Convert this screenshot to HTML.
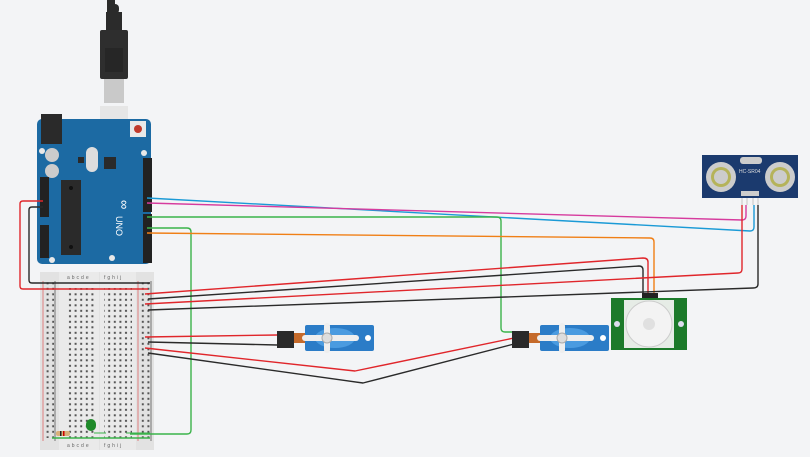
<!DOCTYPE html>
<html><head><meta charset="utf-8"><style>
html,body{margin:0;padding:0;background:#f3f4f6;width:810px;height:457px;overflow:hidden}
svg{display:block;font-family:"Liberation Sans",sans-serif}
</style></head><body>
<svg width="810" height="457" viewBox="0 0 810 457" xmlns="http://www.w3.org/2000/svg">
<defs>
<pattern id="h" x="0" y="0" width="5.6" height="5.5" patternUnits="userSpaceOnUse">
<rect x="1.8" y="1.8" width="2" height="2" fill="#555"/></pattern>
</defs>
<rect width="810" height="457" fill="#f3f4f6"/>

<!-- USB cable -->
<rect x="107" y="0" width="8" height="12" fill="#2b2b2b"/>
<rect x="109" y="4" width="10" height="10" rx="4" fill="#2b2b2b"/>
<rect x="106" y="12" width="16" height="18" fill="#2b2b2b"/>
<rect x="100" y="30" width="28" height="49" rx="2" fill="#2e2e2e"/>
<rect x="105" y="48" width="18" height="24" fill="#262626"/>
<rect x="104" y="79" width="20" height="24" fill="#c9c9c9"/>
<rect x="100" y="106" width="28" height="16" fill="#e6e6e6"/>

<!-- Arduino -->
<rect x="37" y="119" width="114" height="145" rx="5" fill="#1c6aa3"/>
<rect x="41" y="114" width="21" height="30" fill="#2a2a2a"/>
<rect x="130" y="121" width="16" height="16" fill="#e8e8e8"/><circle cx="138" cy="129" r="4" fill="#c0392b"/>
<circle cx="42" cy="151" r="3" fill="#e8e8e8"/><circle cx="144" cy="153" r="3" fill="#e8e8e8"/>
<circle cx="52" cy="155" r="7" fill="#ccc"/><circle cx="52" cy="171" r="7" fill="#ccc"/>
<rect x="86" y="147" width="12" height="25" rx="6" fill="#ddd"/>
<rect x="104" y="157" width="12" height="12" fill="#2a2a2a"/>
<rect x="78" y="157" width="6" height="6" fill="#2a2a2a"/>
<rect x="61" y="180" width="20" height="75" fill="#2a2a2a"/>
<circle cx="71" cy="188" r="2" fill="#111"/><circle cx="71" cy="247" r="2" fill="#111"/>
<rect x="40" y="177" width="9" height="40" fill="#222"/>
<rect x="40" y="225" width="9" height="33" fill="#222"/>
<rect x="143" y="158" width="9" height="54" fill="#222"/>
<rect x="143" y="214" width="9" height="49" fill="#222"/>
<text x="120" y="200" fill="#fff" font-size="13" transform="rotate(90 120 200)">∞</text>
<text x="116" y="216" fill="#fff" font-size="9" transform="rotate(90 116 216)">UNO</text>
<circle cx="52" cy="260" r="3" fill="#e8e8e8"/><circle cx="112" cy="258" r="3" fill="#e8e8e8"/>

<!-- Breadboard -->
<rect x="40" y="272" width="114" height="178" fill="#e2e2e2"/>
<rect x="59" y="272" width="40" height="178" fill="#eaeaea"/>
<rect x="100" y="272" width="36" height="178" fill="#eaeaea"/>
<line x1="43" y1="281" x2="43" y2="441" stroke="#d66" stroke-width="0.8"/>
<line x1="55" y1="281" x2="55" y2="441" stroke="#555" stroke-width="0.8"/>
<line x1="138" y1="281" x2="138" y2="441" stroke="#d66" stroke-width="0.8"/>
<line x1="151" y1="281" x2="151" y2="441" stroke="#555" stroke-width="0.8"/>
<rect x="44" y="282" width="10" height="156" fill="url(#h)"/>
<rect x="66" y="288" width="28" height="150" fill="url(#h)"/>
<rect x="104" y="288" width="28" height="150" fill="url(#h)"/>
<rect x="140" y="282" width="10" height="156" fill="url(#h)"/>
<text x="67" y="279" font-size="5" fill="#666" letter-spacing="2">abcde</text>
<text x="104" y="279" font-size="5" fill="#666" letter-spacing="2">fghij</text>
<text x="67" y="447" font-size="5" fill="#666" letter-spacing="2">abcde</text>
<text x="104" y="447" font-size="5" fill="#666" letter-spacing="2">fghij</text>
<!-- resistor & LED -->
<rect x="56" y="431" width="14" height="5" rx="2" fill="#d9b07a"/>
<rect x="60" y="431" width="1.5" height="5" fill="#222"/><rect x="63" y="431" width="1.5" height="5" fill="#c00"/>
<rect x="86" y="419" width="10" height="12" rx="5" fill="#1f8a2a"/>
<line x1="52" y1="438" x2="150" y2="438" stroke="#3bb34a" stroke-width="1.5"/>
<path d="M94 433 H106 M126 433 H150" stroke="#3bb34a" stroke-width="1"/>

<!-- wires -->
<g fill="none" stroke-width="1.4" stroke-linejoin="round">
<path d="M43 201 H23 Q20 201 20 204 V286 Q20 289 23 289 H148" stroke="#e0262b"/>
<path d="M43 207 H32 Q29 207 29 210 V280 Q29 283 32 283 H150" stroke="#2a2a2a"/>
<path d="M147 198 L750 231 Q754 231 754 227 V205" stroke="#1a9ad6"/>
<path d="M147 203 L742 220 Q746 220 746 216 V205" stroke="#d63b9e"/>
<path d="M147 217 L497 217 Q501 217 501 221 V328 Q501 332 505 332 H514" stroke="#3bb34a"/>
<path d="M147 228 L187 228 Q191 228 191 232 V430 Q191 434 187 434 H130" stroke="#3bb34a"/>
<path d="M147 233 L650 238 Q654 238 654 242 V293" stroke="#f07f16"/>
<path d="M145 294 L643 258 Q648 258 648 262 V293" stroke="#e0262b"/>
<path d="M148 299 L639 266 Q643 266 643 270 V293" stroke="#2a2a2a"/>
<path d="M145 304 L738 273 Q742 273 742 269 V205" stroke="#e0262b"/>
<path d="M148 310 L753 288 Q758 288 758 284 V205" stroke="#2a2a2a"/>
<path d="M145 337 L277 335" stroke="#e0262b"/>
<path d="M148 342 L277 345" stroke="#2a2a2a"/>
<path d="M145 348 L355 371 L514 338" stroke="#e0262b"/>
<path d="M148 353 L363 383 L514 344" stroke="#2a2a2a"/>
</g>

<!-- servos -->
<g id="s1">
<rect x="277" y="331" width="17" height="17" fill="#2a2a2a"/>
<rect x="294" y="333" width="12" height="10" fill="#c56a2a"/>
<rect x="305" y="325" width="69" height="26" rx="2" fill="#2b7cc7"/>
<ellipse cx="335" cy="338" rx="20" ry="10" fill="#4a9be0"/>
<rect x="302" y="335" width="57" height="6" rx="3" fill="#eee"/>
<rect x="324" y="323" width="6" height="30" rx="3" fill="#eee"/>
<circle cx="327" cy="338" r="5" fill="#ddd" stroke="#aaa"/>
<circle cx="368" cy="338" r="3" fill="#fff"/>
</g>
<use href="#s1" transform="translate(235 0)"/>

<!-- PIR -->
<rect x="642" y="293" width="16" height="6" fill="#222"/>
<rect x="611" y="298" width="76" height="52" fill="#1c7a2a"/>
<rect x="624" y="300" width="50" height="48" fill="#e6ece6"/>
<circle cx="649" cy="324" r="23" fill="#f3f3f3" stroke="#ccc"/>
<circle cx="649" cy="324" r="6" fill="#e0e0e0"/>
<circle cx="617" cy="324" r="3" fill="#dde"/><circle cx="681" cy="324" r="3" fill="#dde"/>

<!-- HC-SR04 -->
<rect x="702" y="155" width="96" height="43" fill="#1b3a6e"/>
<rect x="740" y="157" width="22" height="7" rx="3" fill="#ccc"/>
<circle cx="721" cy="177" r="15" fill="#ccc"/><circle cx="721" cy="177" r="10" fill="#b5b35a"/><circle cx="721" cy="177" r="7" fill="#ccc"/>
<circle cx="780" cy="177" r="15" fill="#ccc"/><circle cx="780" cy="177" r="10" fill="#b5b35a"/><circle cx="780" cy="177" r="7" fill="#ccc"/>
<text x="739" y="173" font-size="5" fill="#ddd">HC-SR04</text>
<rect x="741" y="191" width="18" height="5" fill="#ccc"/>
<path d="M742 198 V205 M747 198 V205 M753 198 V205 M758 198 V205" stroke="#ccc" stroke-width="1.2"/>
</svg>
</body></html>
